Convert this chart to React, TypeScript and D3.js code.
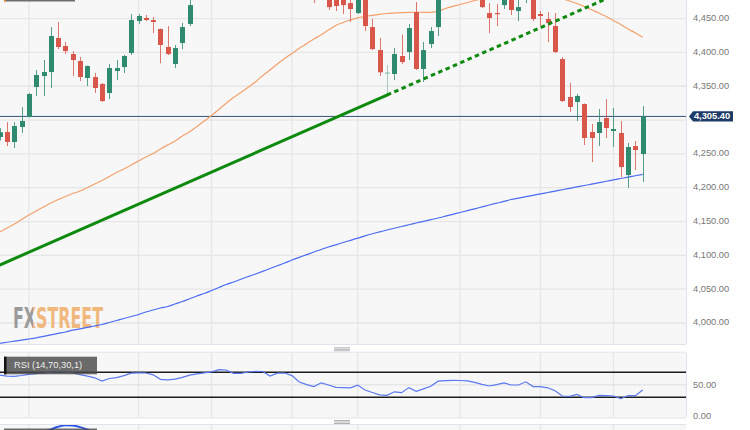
import React from "react";
import * as d3 from "d3";

// ---------- DATA ----------
const OPEN = [
  4275, 4282.3, 4267.6, 4289.7, 4304.5, 4348.9, 4365.1, 4371, 4421.3, 4409.5,
  4397.6, 4387.3, 4362.2, 4363.6, 4353.3, 4340, 4372.5, 4378.4, 4399.1, 4446.4,
  4450.9, 4447.9, 4434.6, 4408, 4382.9, 4413.9, 4442,
  4485, 4512, 4508, 4525, 4557, 4562, 4548, 4544, 4556, 4565, 4598, 4560, 4585, 4579, 4549, 4508, 4513, 4491,
  4510, 4498, 4492, 4473, 4458.2, 4480,
  4437.5, 4403.5, 4369.6, 4368.1, 4394.7, 4400.6, 4459.7, 4375.5, 4412.4, 4437.5,
  4498, 4517, 4530, 4514, 4512,
  4490, 4458.2, 4458.2, 4470, 4484, 4461.2, 4480, 4500, 4456.8, 4449.4, 4439,
  4390.2, 4334.1, 4326.7, 4323.7, 4282.3, 4280.9, 4303, 4283.8, 4280.9, 4218.8, 4261.6, 4249.8,
];
const HIGH = [
  4288, 4297, 4297, 4319.3, 4340, 4374, 4388.8, 4437.5, 4445, 4415.4,
  4402, 4393.2, 4380.6, 4369.6, 4354.8, 4382.9, 4388.8, 4396.2, 4456.8, 4456.8,
  4455.3, 4452.3, 4435.3, 4439, 4411, 4443.5, 4480.4,
  4515, 4528, 4532, 4562, 4578, 4565, 4556, 4568, 4577, 4577, 4607, 4590, 4595, 4595, 4553, 4520, 4540, 4519,
  4528, 4503, 4527, 4479, 4490, 4482,
  4449.4, 4421.3, 4381.4, 4406.5, 4426.5, 4442, 4474.5, 4415.4, 4437.5, 4500,
  4522, 4532, 4541, 4520, 4514,
  4495, 4473, 4471.6, 4495, 4492, 4477.5, 4511, 4505, 4461.2, 4459.7, 4458.2,
  4393.2, 4354.8, 4338.5, 4324.5, 4294.2, 4316.3, 4331.1, 4317.8, 4298.6, 4266.1, 4269, 4320.8,
];
const LOW = [
  4270, 4261.6, 4258.7, 4280.8, 4303.8, 4335.6, 4335.6, 4347.4, 4405, 4397.6,
  4365.1, 4357.7, 4350.3, 4340, 4326.7, 4331.1, 4359.2, 4369.6, 4396.2, 4442,
  4446.4, 4428.5, 4384, 4396.2, 4376.9, 4405, 4439,
  4482, 4495, 4500, 4518, 4550, 4527, 4530, 4540, 4548, 4540, 4528, 4554, 4580, 4565, 4506, 4496, 4473, 4484,
  4462.7, 4461, 4456.8, 4445, 4456.8, 4431.6,
  4403.5, 4365.1, 4337, 4359.2, 4382.9, 4388.8, 4374, 4356.2, 4406.5, 4424.2,
  4492, 4505, 4501, 4505, 4485,
  4465.7, 4428.5, 4439, 4464.2, 4455.3, 4446.4, 4473, 4446.4, 4439, 4415.4, 4399.1,
  4326.7, 4312.2, 4298.6, 4263.1, 4238, 4261.6, 4273.5, 4260.2, 4215.8, 4199.6, 4226.2, 4208.4,
];
const CLOSE = [
  4282, 4267.6, 4291.2, 4298.6, 4338.5, 4366.6, 4371, 4424.2, 4408, 4402,
  4388.8, 4363.6, 4379.9, 4347.4, 4328.2, 4376.9, 4376.9, 4394.7, 4447.9, 4453.8,
  4447.9, 4445, 4411, 4397.6, 4406.5, 4437.5, 4470,
  4510, 4505, 4522, 4555, 4565, 4535, 4536, 4554, 4567, 4566, 4537, 4582, 4589, 4577, 4513, 4501, 4480, 4518,
  4467, 4468.6, 4470, 4464.2, 4487, 4439,
  4405, 4370.6, 4370.3, 4397.6, 4385.8, 4436, 4375.5, 4403.5, 4431.6, 4495,
  4514, 4508, 4515, 4512, 4496,
  4467, 4450.9, 4456.8, 4487, 4462.7, 4467, 4505, 4449.4, 4453.8, 4443.5, 4400.6,
  4328.2, 4319.3, 4335.6, 4273.5, 4273.5, 4297.1, 4288.2, 4286.8, 4230.6, 4260.2, 4255.7, 4305.4,
];
const SMA50 = [
  4134.5, 4140.4, 4146.3, 4153, 4159.6, 4165.6, 4171.5, 4177.4, 4182.6, 4187,
  4191.4, 4195.1, 4200.3, 4205.5, 4210.6, 4216.6, 4222.5, 4227.6, 4233.6, 4239.5,
  4245.4, 4250.6, 4257.2, 4263.1, 4269, 4276.4, 4282.6, 4290.5, 4298.6, 4306.7,
  4315.6, 4324.8, 4333.3, 4340.7, 4348.4, 4356.2, 4365.9, 4374, 4383, 4391,
  4398.5, 4406, 4413, 4420, 4426, 4433.1, 4439.8, 4444.2, 4447.9, 4451.1,
  4453.1, 4454.8, 4456.3, 4457.5, 4458.2, 4458.8, 4459.3, 4459.4, 4459.3, 4459.3,
  4461.2, 4464.9, 4468.1, 4470.8, 4473.7, 4476.7, 4479, 4481, 4483, 4484.5,
  4485.5, 4486, 4486, 4485.5, 4484.5, 4483, 4481.5, 4479.5, 4476, 4472.3,
  4467.9, 4463, 4458.2, 4453.1, 4447.2, 4441.2, 4434.6, 4428.7, 4422.3,
];
const SMA200 = [
  3970, 3971.5, 3973.1, 3974.7, 3976.3, 3978.1, 3980.3, 3982.4, 3984.6, 3986.7,
  3989.4, 3991.4, 3993.6, 3995.6, 3997.8, 4000.7, 4003.7, 4006.7, 4009.6, 4012.6,
  4016.3, 4019.2, 4022.2, 4024.4, 4028.1, 4031.8, 4035.9, 4039.9, 4043.6, 4048,
  4052.5, 4056.9, 4060.6, 4064.7, 4068.6, 4072.4, 4076.4, 4080.6, 4084.6, 4088.7,
  4093.1, 4097.1, 4101, 4105, 4108.6, 4112.3, 4115.6, 4119, 4122.2, 4125.4,
  4128.9, 4131.9, 4134.7, 4137.5, 4140.1, 4142.6, 4145.3, 4147.8, 4150.3, 4152.8,
  4155.2, 4157.9, 4160.7, 4163.3, 4166.1, 4168.8, 4171.6, 4174.4, 4177.1, 4179.7,
  4182.6, 4184.6, 4186.7, 4188.8, 4190.8, 4192.9, 4195, 4197, 4199.1, 4201.2,
  4203.3, 4205.3, 4207.4, 4209.5, 4211.5, 4213.6, 4215.7, 4217.7, 4219.8,
];
const RSI = [
  65.6, 63.7, 63.5, 64.8, 66.6, 67.7, 68.8, 70.1, 71.4, 70.1,
  68.8, 66.2, 63.8, 61.1, 56, 60, 61.4, 64.5, 68.5, 69.1,
  68.8, 65.9, 58.7, 57.9, 59, 61.9, 65.4, 67.5, 69.1, 70.6,
  74.1, 73.6, 68.3, 68.3, 70.4, 71.5, 71.2, 64, 68.5, 68.8,
  64.6, 54.4, 50.1, 47, 53.1, 49.6, 45.9, 45.4, 45.1, 49.4,
  41.6, 37.6, 33.8, 33.1, 38.7, 37.3, 45.4, 39.5, 43.4, 47.5,
  55.7, 56.5, 57.1, 56.8, 56.3, 53.8, 50.6, 48, 50.1, 53.1,
  49.6, 49.6, 54.7, 47, 46.9, 45.1, 40.3, 32, 31.5, 34.6,
  29.3, 29.3, 33.1, 32.5, 32, 27.7, 32.5, 32.5, 41.6,
];
const STOCH_START = 5;
const STOCH = [80, 88, 92.5, 96.5, 99, 98.5, 96, 92, 86, 80];
const PRICE_TICKS = [4000, 4050, 4100, 4150, 4200, 4250, 4300, 4350, 4400, 4450];
const PRICE_LABELS = [4000, 4050, 4100, 4150, 4200, 4250, 4350, 4400, 4450];
const RSI_TICKS = [0, 50];
const RSI_LEVELS = [70, 30];
const GRID_IDX = [4, 19, 29, 40, 49, 63, 74, 84];
const LAST_PRICE = 4305.4;
const TREND_A = { i: 0, p: 4085.7 };
const TREND_B = { i: 53, p: 4337 };
const TREND_END_IDX = 96;

const FONT = "'Liberation Sans', Arial, Helvetica, sans-serif";
const fmt = d3.format(",.2f");

export default function App() {
  const W = 750, H = 430;
  const plotR = 686, mainB = 344;
  const rsiT = 352.7, rsiB = 417.5;
  const p3T = 425;

  const x = d3.scaleLinear().domain([0, 88]).range([-0.3, 642.7]);
  const y = d3.scaleLinear().domain([4000, 4450]).range([323, 18.6]);
  const ry = d3.scaleLinear().domain([0, 100]).range([416, 353.5]);
  const sy = d3.scaleLinear().domain([0, 100]).range([490, 424.5]);

  const idx = d3.range(OPEN.length);
  const maLine = d3.line<number>().x((_, i) => x(i)).y((v) => y(v)).curve(d3.curveMonotoneX);
  const rsiLine = d3.line<number>().x((_, i) => x(i)).y((v) => ry(v));
  const stochLine = d3.line<number>().x((_, i) => x(i + STOCH_START)).y((v) => sy(v)).curve(d3.curveMonotoneX);

  const slope = (TREND_B.p - TREND_A.p) / (TREND_B.i - TREND_A.i);
  const trendEndP = TREND_B.p + slope * (TREND_END_IDX - TREND_B.i);

  const green = "#2f8a70", red = "#d9574a", pale = "#93c0b3";
  const yLast = y(LAST_PRICE);

  return (
    <svg width={W} height={H} style={{ position: "absolute", left: 0, top: 0, background: "#fff" }}>
      <defs>
        <clipPath id="mainClip"><rect x={0} y={0} width={plotR} height={mainB} /></clipPath>
        <clipPath id="rsiClip"><rect x={0} y={rsiT} width={plotR} height={rsiB - rsiT} /></clipPath>
        <clipPath id="p3Clip"><rect x={0} y={p3T} width={plotR} height={H - p3T} /></clipPath>
        <linearGradient id="wmGrad" gradientUnits="userSpaceOnUse" x1={13} x2={103} y1={0} y2={0}>
          <stop offset="0" stopColor="#8c8c8c" />
          <stop offset="0.225" stopColor="#8c8c8c" />
          <stop offset="0.225" stopColor="#f1ae6a" />
          <stop offset="1" stopColor="#f1ae6a" />
        </linearGradient>
      </defs>
      <rect x={0} y={0} width={W} height={H} fill="#fff" />

      {/* Main panel */}
      <rect x={0} y={0} width={plotR} height={mainB} fill="#f7f7f7" />
      <g clipPath="url(#mainClip)">
        {PRICE_TICKS.map((t) => (
          <line key={t} x1={0} x2={plotR} y1={y(t)} y2={y(t)} stroke="#e6e6e6" strokeWidth={1.3} />
        ))}
        {GRID_IDX.map((g) => (
          <line key={g} x1={x(g)} x2={x(g)} y1={0} y2={mainB} stroke="#e6e6e6" strokeWidth={1.3} />
        ))}
        {/* watermark */}
        <text x={13} y={328} fontFamily="'DejaVu Sans', sans-serif" fontWeight="bold" fontSize={29}
          fill="url(#wmGrad)" opacity={0.85} textLength={90} lengthAdjust="spacingAndGlyphs">FXSTREET</text>
        <line x1={0} x2={plotR} y1={yLast} y2={yLast} stroke="#34507a" strokeWidth={1} />
        <path d={maLine(SMA200) || ""} fill="none" stroke="#4a6cf4" strokeWidth={1.2} />
        <path d={maLine(SMA50) || ""} fill="none" stroke="#f4a06a" strokeWidth={1.2} />
        {/* candles */}
        {idx.map((i) => {
          const o = OPEN[i], c = CLOSE[i];
          const col = Math.abs(c - o) < 1 ? pale : c >= o ? green : red;
          const cx = Math.round(x(i)) + 0.5;
          const top = y(Math.max(o, c));
          const bot = y(Math.min(o, c));
          return (
            <g key={i}>
              <line x1={cx} x2={cx} y1={y(HIGH[i])} y2={y(LOW[i])} stroke={col} strokeWidth={1} opacity={0.8} />
              <rect x={cx - 2.5} y={top} width={5} height={Math.max(1.2, bot - top)} fill={col} />
            </g>
          );
        })}
        {/* trendline */}
        <line x1={x(TREND_A.i)} y1={y(TREND_A.p)} x2={x(TREND_B.i)} y2={y(TREND_B.p)}
          stroke="#0e8a0e" strokeWidth={3} strokeLinecap="round" />
        <line x1={x(TREND_B.i)} y1={y(TREND_B.p)} x2={x(TREND_END_IDX)} y2={y(trendEndP)}
          stroke="#0e8a0e" strokeWidth={3} strokeDasharray="4.5,3.5" />
      </g>
      <line x1={plotR + 0.5} x2={plotR + 0.5} y1={0} y2={mainB} stroke="#dfe3ea" />
      <line x1={0} x2={plotR} y1={mainB + 0.5} y2={mainB + 0.5} stroke="#dfe3ea" />
      {/* top-left legend remnant */}
      <rect x={4} y={0} width={71} height={1.5} fill="#6e6e6e" />
      <rect x={4} y={0} width={1.8} height={1.5} fill="#f08a24" />

      {/* price axis */}
      <g fontFamily={FONT} fontSize={9.3} fill="#777">
        {PRICE_LABELS.map((t) => (
          <text key={t} x={693} y={y(t)} dominantBaseline="middle">{fmt(t)}</text>
        ))}
      </g>
      <path d={`M${plotR + 3},${yLast} L${plotR + 7},${yLast - 5.2} L${733},${yLast - 5.2} L${733},${yLast + 5.2} L${plotR + 7},${yLast + 5.2} Z`}
        fill="#1d3b66" />
      <text x={712} y={yLast + 0.5} fontFamily={FONT} fontSize={9.3} fontWeight="bold" fill="#fff"
        textAnchor="middle" dominantBaseline="middle">{fmt(LAST_PRICE)}</text>

      {/* handle */}
      {[0, 1.5, 3].map((d) => (
        <line key={"h1" + d} x1={334} x2={350} y1={347.8 + d} y2={347.8 + d} stroke="#aaa" strokeWidth={0.9} />
      ))}

      {/* RSI panel */}
      <rect x={0} y={rsiT} width={plotR} height={rsiB - rsiT} fill="#f7f7f7" />
      <g clipPath="url(#rsiClip)">
        <line x1={0} x2={plotR} y1={ry(50)} y2={ry(50)} stroke="#e6e6e6" strokeWidth={1.3} />
        {GRID_IDX.map((g) => (
          <line key={g} x1={x(g)} x2={x(g)} y1={rsiT} y2={rsiB} stroke="#e6e6e6" strokeWidth={1.3} />
        ))}
        {RSI_LEVELS.map((l) => (
          <line key={l} x1={0} x2={plotR} y1={ry(l)} y2={ry(l)} stroke="#1c1c1c" strokeWidth={1.6} />
        ))}
        <path d={rsiLine(RSI) || ""} fill="none" stroke="#5a78f2" strokeWidth={1.2} />
      </g>
      <line x1={0} x2={plotR} y1={rsiT - 0.5} y2={rsiT - 0.5} stroke="#dfe3ea" />
      <line x1={0} x2={plotR} y1={rsiB + 0.5} y2={rsiB + 0.5} stroke="#dfe3ea" />
      <line x1={plotR + 0.5} x2={plotR + 0.5} y1={rsiT} y2={rsiB} stroke="#dfe3ea" />
      <rect x={4} y={356.7} width={93} height={17.6} fill="#4a4a4a" opacity={0.82} />
      <rect x={4} y={356.7} width={2.5} height={17.6} fill="#111" />
      <text x={14} y={366} fontFamily={FONT} fontSize={9.3} fill="#eee" dominantBaseline="middle">RSI (14,70,30,1)</text>
      <g fontFamily={FONT} fontSize={9.3} fill="#777">
        {RSI_TICKS.map((t) => (
          <text key={t} x={693} y={ry(t) + 1} dominantBaseline="middle">{fmt(t)}</text>
        ))}
      </g>

      {/* handle 2 */}
      {[0, 1.5, 3].map((d) => (
        <line key={"h2" + d} x1={334} x2={350} y1={420.5 + d} y2={420.5 + d} stroke="#aaa" strokeWidth={0.9} />
      ))}

      {/* third panel (cut off) */}
      <rect x={0} y={p3T} width={plotR} height={H - p3T} fill="#f7f7f7" />
      <line x1={0} x2={plotR} y1={p3T - 0.5} y2={p3T - 0.5} stroke="#dfe3ea" />
      <g clipPath="url(#p3Clip)">
        {GRID_IDX.map((g) => (
          <line key={g} x1={x(g)} x2={x(g)} y1={p3T} y2={H} stroke="#e6e6e6" strokeWidth={1.3} />
        ))}
        <path d={stochLine(STOCH) || ""} fill="none" stroke="#2f55e8" strokeWidth={2} />
      </g>
      <rect x={4} y={428.5} width={93} height={2} fill="#4a4a4a" opacity={0.82} />
    </svg>
  );
}
